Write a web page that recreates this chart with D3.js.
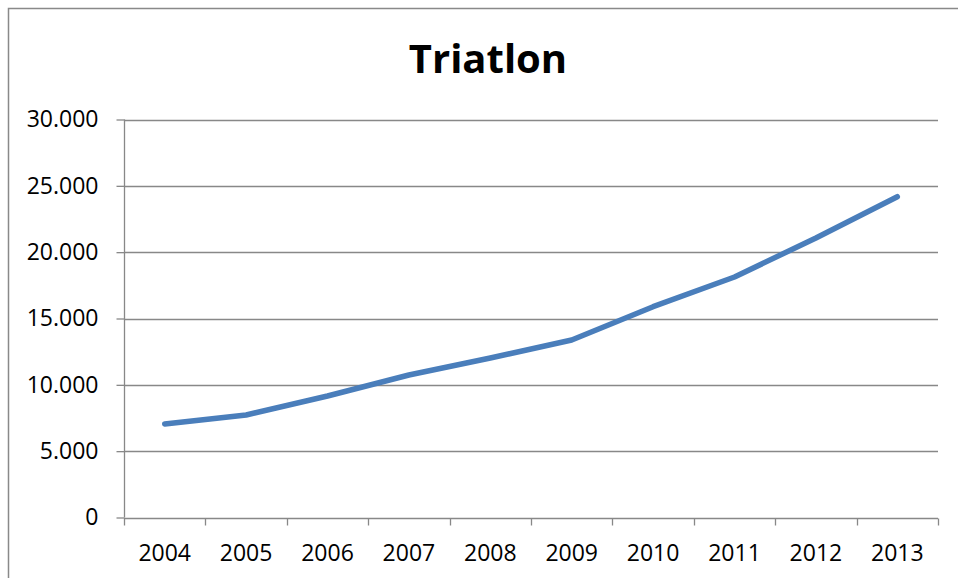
<!DOCTYPE html>
<html><head><meta charset="utf-8">
<script src="https://cdn.jsdelivr.net/npm/d3@7"></script>
<style>body{margin:0;background:#fff}svg{display:block}</style>
</head><body>
<svg id="c" width="958" height="578"></svg>
<script>
const years = ["2004","2005","2006","2007","2008","2009","2010","2011","2012","2013"];
const values = [7050,7730,9160,10740,12020,13380,15890,18130,21070,24180];
const yTicks = [0,5000,10000,15000,20000,25000,30000];
const title = "Triatlon";

(function(){
const svg = d3.select("#c");
const font = "'Open Sans', sans-serif";
svg.append("path").attr("d","M8.5,578 V8.5 H958").attr("fill","none").attr("stroke","#898989").attr("stroke-width",1.5);

const pl=124, pr=938, pt=119.5, pb=517.5;
const x = d3.scaleBand().domain(years).range([pl,pr]);
const y = d3.scaleLinear().domain([0,30000]).range([pb,pt]);
const fmt = v => d3.format(",")(v).replace(/,/g,".");

svg.append("g").selectAll("line").data(yTicks.filter(d=>d>0)).join("line")
  .attr("x1",pl).attr("x2",pr).attr("y1",d=>Math.round(y(d))+0.5).attr("y2",d=>Math.round(y(d))+0.5)
  .attr("stroke","#888").attr("stroke-width",1.3);

const ya = svg.append("g").attr("transform",`translate(${pl+0.5},0)`)
  .call(d3.axisLeft(y).tickValues(yTicks).tickFormat(fmt).tickSize(8).tickPadding(18));
ya.select(".domain").attr("stroke","#888").attr("stroke-width",1.3).attr("d",`M0,${pt}V${pb}`);
ya.selectAll(".tick line").attr("stroke","#888").attr("stroke-width",1.3);
ya.selectAll(".tick text").attr("font-family",font).attr("font-size",23).attr("fill","#000");

const xa = svg.append("g").attr("transform",`translate(0,${Math.round(pb)+0.5})`)
  .call(d3.axisBottom(x).tickSize(0).tickPadding(26));
xa.select(".domain").remove();
xa.append("line").attr("x1",pl).attr("x2",pr).attr("stroke","#888").attr("stroke-width",1.3);
const edges = years.map(d=>x(d)).concat([pr]);
xa.selectAll(".edge").data(edges).join("line").attr("class","edge")
  .attr("x1",d=>Math.round(d)+0.5).attr("x2",d=>Math.round(d)+0.5).attr("y1",0).attr("y2",7)
  .attr("stroke","#888").attr("stroke-width",1.3);
xa.selectAll(".tick text").attr("font-family",font).attr("font-size",23).attr("fill","#000");

const line = d3.line().x((d,i)=>x(years[i])+x.bandwidth()/2).y(d=>y(d));
svg.append("path").datum(values).attr("d",line).attr("fill","none")
  .attr("stroke","#4a7ebb").attr("stroke-width",5.5).attr("stroke-linecap","round").attr("stroke-linejoin","round");

svg.append("text").attr("x",488).attr("y",73).attr("text-anchor","middle")
  .attr("font-family",font).attr("font-weight","bold").attr("font-size",40).attr("fill","#000").text(title);
})();
</script>
</body></html>
